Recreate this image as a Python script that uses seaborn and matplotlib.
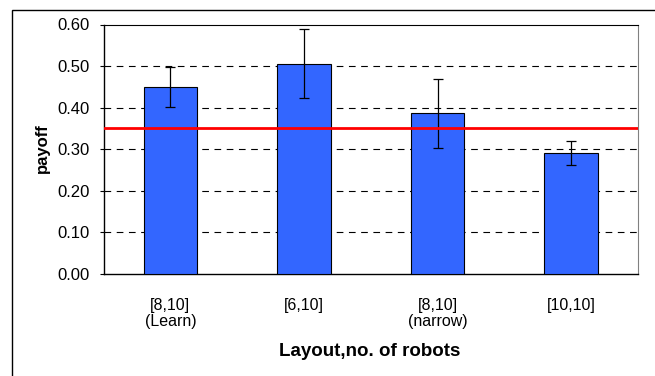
import matplotlib
matplotlib.use("Agg")
import matplotlib.pyplot as plt
import seaborn as sns
import pandas as pd
import numpy as np
from matplotlib.patches import Rectangle

categories = ["[8,10]\n(Learn)", "[6,10]", "[8,10]\n(narrow)", "[10,10]"]
payoff = [0.45, 0.506, 0.386, 0.29]
payoff_err = [0.048, 0.083, 0.084, 0.029]
baseline = 0.35
y_ticks = [0.0, 0.1, 0.2, 0.3, 0.4, 0.5, 0.6]

sns.set_theme(style="white")
plt.rcParams["font.family"] = ["Liberation Sans", "DejaVu Sans"]

df = pd.DataFrame({"layout": categories, "payoff": payoff})

fig = plt.figure(figsize=(6.55, 3.76), dpi=100)
ax = fig.add_axes([103.5 / 655, 1 - 274 / 376, 534.5 / 655, 249.5 / 376])

# outer chart frame
fig.patches.append(Rectangle((12 / 655, -0.1), 1.2, (376 - 10) / 376 + 0.1,
                             transform=fig.transFigure, fill=False,
                             edgecolor="black", linewidth=1.0, zorder=0))

sns.barplot(data=df, x="layout", y="payoff", color="#3366FF", width=0.4,
            edgecolor="black", linewidth=0.8, saturation=1, ax=ax, zorder=3)
ax.errorbar(np.arange(len(categories)), payoff, yerr=payoff_err, fmt="none",
            ecolor="black", elinewidth=0.9, capsize=3.5, capthick=0.9, zorder=4)
ax.axhline(baseline, color="#FF0000", linewidth=2.0, zorder=5)

ax.set_xlim(-0.5, len(categories) - 0.5)
ax.set_ylim(0, 0.6)
ax.set_yticks(y_ticks)
ax.set_yticklabels([f"{v:.2f}" for v in y_ticks], fontsize=12)
for v in y_ticks[1:-1]:
    ax.axhline(v, color="black", linewidth=0.8, dashes=(6, 5), zorder=1)

ax.tick_params(axis="y", which="major", left=True, length=3, width=0.8,
               direction="out", pad=7, colors="black")
ax.tick_params(axis="x", bottom=False, pad=11, labelsize=11.5)
for lbl in ax.get_xticklabels():
    lbl.set_color("black")
    lbl.set_linespacing(1.15)

for side in ["left", "bottom"]:
    ax.spines[side].set_color("black")
    ax.spines[side].set_linewidth(1.0)
ax.spines["top"].set_color("black")
ax.spines["top"].set_linewidth(0.8)
ax.spines["right"].set_color("#808080")
ax.spines["right"].set_linewidth(0.8)

ax.set_xlabel("Layout,no. of robots", fontsize=13.5, fontweight="bold", color="black")
ax.set_ylabel("payoff", fontsize=12, fontweight="bold", color="black")
ax.xaxis.set_label_coords((370 - 103.5) / 534.5, -(351 - 274) / 249.5)
ax.yaxis.set_label_coords(-(103.5 - 42.7) / 534.5, (274 - 148) / 249.5)
ax.xaxis.label.set_va("center")
ax.yaxis.label.set_va("center")

fig.savefig("out.png", dpi=100)
